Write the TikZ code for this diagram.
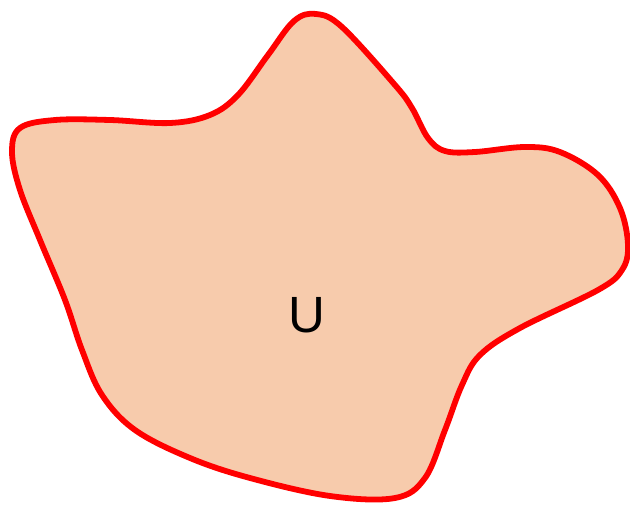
\documentclass[tikz,border=0pt]{standalone}
\usepackage{fontspec}
\setmainfont{Liberation Sans}
\usetikzlibrary{positioning}

\definecolor{blobfill}{HTML}{F7CBAC}

\begin{document}
\begin{tikzpicture}[x=0.02cm, y=-0.02cm,
		blob/.style={draw=red, fill=blobfill, line width=3.3pt, line join=round},
		setlabel/.style={font=\fontsize{29}{29}\selectfont, inner sep=0pt}]
	\useasboundingbox (0,0) rectangle (630,507);
	
	\draw[blob] plot[smooth cycle, tension=0.6] coordinates {
		(316,14) (342,27) (395,85) (412,108) (428,138) (445,151) (475,152)
		(525,147) (560,152) (598,175) (620,208) (628,245) (622,270)
		(598,290) (520,328) (480,355) (462,385) (445,430) (425,478)
		(395,498) (330,496) (250,478) (190,458) (135,430) (102,395)
		(82,350) (65,300) (40,240) (20,190) (12,152) (20,128) (55,120)
		(110,120) (170,123) (210,115) (238,95) (268,55) (294,21)};
	
	\node[setlabel] (U) at (307,315) {U};
\end{tikzpicture}
\end{document}
